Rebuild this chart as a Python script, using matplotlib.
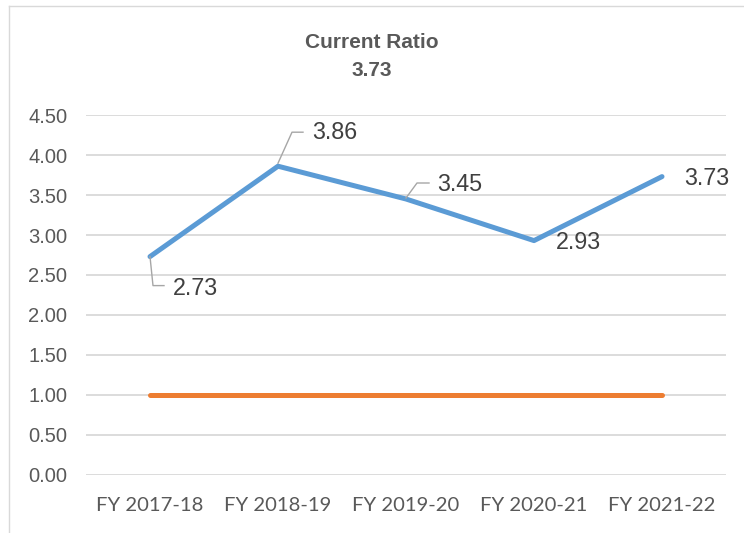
import matplotlib
matplotlib.use("Agg")
import matplotlib.pyplot as plt
from matplotlib.lines import Line2D

categories = ["FY 2017-18", "FY 2018-19", "FY 2019-20", "FY 2020-21", "FY 2021-22"]
current_ratio = [2.73, 3.86, 3.45, 2.93, 3.73]
benchmark = [1.00, 1.00, 1.00, 1.00, 1.00]
y_ticks = [0.0, 0.5, 1.0, 1.5, 2.0, 2.5, 3.0, 3.5, 4.0, 4.5]
title_text = "Current Ratio"
title_value = "3.73"

W, H = 744, 533
fig = plt.figure(figsize=(W / 100, H / 100), dpi=100)
fig.patch.set_facecolor("white")

# chart border (left and top visible)
fig.add_artist(Line2D([9 / W, 9 / W], [0, 1 - 6 / H], color="#D9D9D9", lw=1.0, transform=fig.transFigure))
fig.add_artist(Line2D([9 / W, 1], [1 - 6 / H, 1 - 6 / H], color="#D9D9D9", lw=1.0, transform=fig.transFigure))

ax = fig.add_axes([86 / W, 58 / H, 640 / W, 360 / H])
x = list(range(len(categories)))

ax.plot(x, benchmark, color="#ED7D31", lw=3.6, solid_capstyle="round", zorder=3)
ax.plot(x, current_ratio, color="#5B9BD5", lw=3.6, solid_capstyle="round",
        solid_joinstyle="round", zorder=4)

ax.set_xlim(-0.5, len(categories) - 0.5)
ax.set_ylim(0, 4.5)
ax.set_yticks(y_ticks)
ax.set_yticklabels([f"{t:.2f}" for t in y_ticks], family="Liberation Sans", fontsize=14.5, color="#595959")
ax.set_xticks(x)
ax.set_xticklabels(categories, family="Lato", fontsize=14.6, color="#595959")
ax.tick_params(axis="y", length=0, pad=13.5)
ax.tick_params(axis="x", length=0, pad=16)
for s in ax.spines.values():
    s.set_visible(False)
ax.grid(axis="y", color="#D9D9D9", lw=1.3)
ax.set_axisbelow(True)

fig.text(0.5, 1 - 42 / H, title_text, ha="center", va="center", family="Liberation Sans",
         fontsize=15, fontweight="bold", color="#595959")
fig.text(0.5, 1 - 70.5 / H, title_value, ha="center", va="center", family="Liberation Sans",
         fontsize=15, fontweight="bold", color="#595959")

# data labels (offsets in pixels: right, up)
label_offsets = [(23, -31.5), (34, 34), (31, 15), (22, -1.5), (22, -1.5)]
leaders = [
    [(0, 0), (3, -29), (14, -29)],
    [(0, 3), (14, 34), (25, 34)],
    [(0, 1), (11, 16), (23, 16)],
    None,
    None,
]
fig.canvas.draw()
for i, v in enumerate(current_ratio):
    dx, dy = label_offsets[i]
    ax.annotate(f"{v:.2f}", (i, v), xytext=(dx, dy), textcoords="offset pixels",
                ha="left", va="center", family="Liberation Sans", fontsize=16.8,
                color="#404040", zorder=6)
    if leaders[i]:
        px, py = ax.transData.transform((i, v))
        xs = [px + p[0] for p in leaders[i]]
        ys = [py + p[1] for p in leaders[i]]
        fig.add_artist(Line2D([a / W for a in xs], [b / H for b in ys], color="#A6A6A6",
                              lw=1.0, transform=fig.transFigure, zorder=5))

fig.savefig("out.png", dpi=100, facecolor="white")
